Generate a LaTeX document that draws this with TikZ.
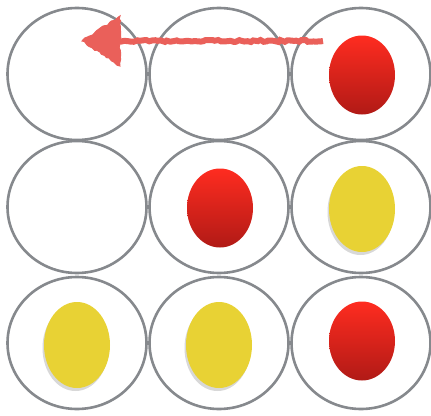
\documentclass[tikz,border=0pt]{standalone}
\usepackage{tikz}
\usetikzlibrary{shapes.geometric,shadows,decorations.pathmorphing}
\definecolor{ringgray}{RGB}{134, 137, 141}
\definecolor{tokred}{RGB}{255, 44, 32}
\definecolor{tokdark}{RGB}{176, 26, 22}
\definecolor{tokyellow}{RGB}{232, 210, 52}
\definecolor{arrowred}{RGB}{234, 96, 90}

\tikzset{
  cell/.style={ellipse, draw=ringgray, line width=2.6pt, minimum width=139pt, minimum height=132pt, inner sep=0pt},
  redtok/.style={ellipse, minimum width=66pt, minimum height=79pt, top color=tokred, bottom color=tokdark, inner sep=0pt},
  yellowtok/.style={ellipse, minimum width=66pt, minimum height=86pt, fill=tokyellow, inner sep=0pt,
    drop shadow={shadow xshift=-1.5pt, shadow yshift=-3pt, opacity=0.22, fill=black!70}},
  rough/.style={decoration={random steps, segment length=3pt, amplitude=1pt}, decorate}
}

\begin{document}
\begin{tikzpicture}[x=1pt, y=-1pt]
    \useasboundingbox (0,0) rectangle (431,415);
    % grid of rings
    \node[cell] (c11) at (77,74) {};
    \node[cell] (c12) at (219,74) {};
    \node[cell] (c13) at (361,74) {};
    \node[cell] (c21) at (77,207) {};
    \node[cell] (c22) at (219,207) {};
    \node[cell] (c23) at (361,207) {};
    \node[cell] (c31) at (77,343) {};
    \node[cell] (c32) at (219,343) {};
    \node[cell] (c33) at (361,343) {};
    % tokens
    \node[redtok] (r13) at (362,75) {};
    \node[redtok] (r22) at (220,208) {};
    \node[yellowtok] (y23) at (362,209) {};
    \node[yellowtok] (y31) at (77,345) {};
    \node[yellowtok] (y32) at (219,345) {};
    \node[redtok] (r33) at (362,341) {};
    % move arrow
    \coordinate (arrowstart) at (323,41);
    \coordinate (arrowtip) at (82,41);
    \coordinate (arrowbase) at (120,41);
    \draw[arrowred, line width=6pt, rough] (arrowstart) -- (arrowbase);
    \fill[arrowred, draw=arrowred, line width=1pt, rough]
      (arrowtip) -- ([yshift=-25pt]arrowbase) -- ([yshift=25pt]arrowbase) -- cycle;
  \end{tikzpicture}
\end{document}
